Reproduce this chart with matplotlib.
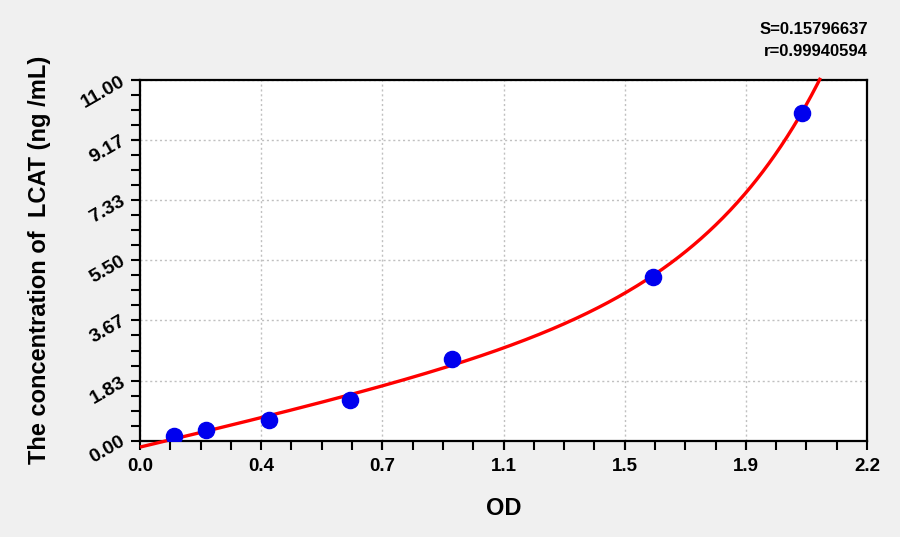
import numpy as np
import matplotlib.pyplot as plt
from matplotlib.ticker import AutoMinorLocator

plt.rcParams['font.family'] = ['Liberation Sans', 'DejaVu Sans']

# standard curve data
od = [0.103, 0.199, 0.390, 0.634, 0.945, 1.553, 2.002]
conc = [0.156, 0.3125, 0.625, 1.25, 2.5, 5.0, 10.0]
x_ticks = [0.0, 0.3667, 0.7333, 1.1, 1.4667, 1.8333, 2.2]
x_labels = ['0.0', '0.4', '0.7', '1.1', '1.5', '1.9', '2.2']
y_ticks = [0.0, 1.8333, 3.6667, 5.5, 7.3333, 9.1667, 11.0]
y_labels = ['0.00', '1.83', '3.67', '5.50', '7.33', '9.17', '11.00']
s_text = 'S=0.15796637'
r_text = 'r=0.99940594'

fig = plt.figure(figsize=(9, 5.37), dpi=100, facecolor='#f0f0f0')
ax = fig.add_axes([140 / 900, 1 - 440.7 / 537, 727 / 900, 360.7 / 537])
ax.set_facecolor('white')

# fitted curve: conc = A*exp(b*od) + k*od + c, least squares over b
x = np.array(od)
y = np.array(conc)
best = None
for b in np.linspace(0.2, 5, 961):
    M = np.vstack([np.exp(b * x), x, np.ones_like(x)]).T
    sol = np.linalg.lstsq(M, y, rcond=None)[0]
    sse = np.sum((M @ sol - y) ** 2)
    if best is None or sse < best[0]:
        best = (sse, b, sol)
_, b, (A, k, c) = best

xs = np.linspace(0.005, 2.2, 600)
ys = A * np.exp(b * xs) + k * xs + c
keep = ys <= 11.05
ax.plot(xs[keep], ys[keep], color='#ff0000', lw=2.4, zorder=3, clip_on=False)

ax.scatter(od, conc, s=135, color='#0000ee', zorder=4)

ax.set_xlim(0, 2.2)
ax.set_ylim(0, 11.0)
ax.set_xticks(x_ticks)
ax.set_xticklabels(x_labels, fontsize=13.5, fontweight='bold')
ax.set_yticks(y_ticks)
ax.set_yticklabels(y_labels, fontsize=14, fontweight='bold', rotation=30,
                   rotation_mode='anchor', ha='right', va='center')
ax.xaxis.set_minor_locator(AutoMinorLocator(4))
ax.yaxis.set_minor_locator(AutoMinorLocator(4))
ax.tick_params(which='both', direction='out', length=6.5, width=1.5, color='black')
ax.tick_params(axis='x', pad=6)
ax.tick_params(axis='y', pad=5)

ax.grid(True, which='major', color='#c0c0c0', linestyle=(0, (1.5, 2)), lw=1)
for sp in ax.spines.values():
    sp.set_linewidth(1.6)
    sp.set_color('black')

ax.set_xlabel('OD', fontsize=17, fontweight='bold', labelpad=16)
ax.set_ylabel('The concentration of  LCAT (ng /mL)', fontsize=17,
              fontweight='bold', labelpad=20)

fig.text(868 / 900, 1 - 29 / 537, s_text, ha='right', va='center',
         fontsize=12, fontweight='bold')
fig.text(868 / 900, 1 - 52 / 537, r_text, ha='right', va='center',
         fontsize=12, fontweight='bold')

fig.savefig('out.png', dpi=100, facecolor=fig.get_facecolor())
